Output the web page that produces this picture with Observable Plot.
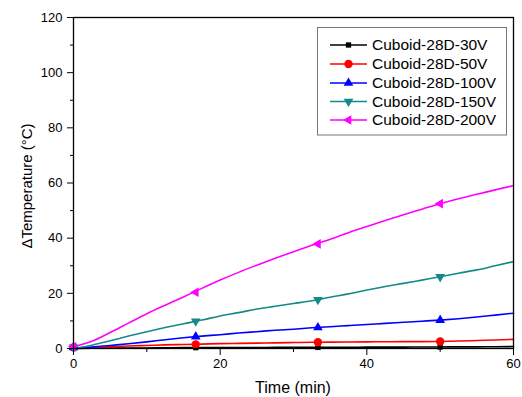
<!DOCTYPE html>
<html>
<head>
<meta charset="utf-8">
<script src="https://cdn.jsdelivr.net/npm/d3@7"></script>
<script src="https://cdn.jsdelivr.net/npm/@observablehq/plot@0.6"></script>
<style>
  html, body { margin: 0; padding: 0; background: #fff; }
  #chart svg { display: block; }
</style>
</head>
<body>
<div id="chart"></div>
<script>
// ---- Data ----
const seriesNames = ["Cuboid-28D-30V", "Cuboid-28D-50V", "Cuboid-28D-100V", "Cuboid-28D-150V", "Cuboid-28D-200V"];
const seriesColors = ["#000000", "#ff0000", "#0000ff", "#138a8a", "#ff00ff"];

const lineTimes = [0, 2.5, 5, 7.5, 10, 12.5, 15, 17.5, 20, 22.5, 25, 27.5, 30, 32.5, 35, 37.5, 40, 42.5, 45, 47.5, 50, 52.5, 55, 57.5, 60];
const v30  = [0, 0.1, 0.15, 0.2, 0.2, 0.25, 0.3, 0.3, 0.3, 0.35, 0.35, 0.4, 0.4, 0.4, 0.45, 0.45, 0.5, 0.5, 0.5, 0.55, 0.55, 0.6, 0.6, 0.65, 0.7];
const v50  = [0, 0.3, 0.6, 0.9, 1.1, 1.3, 1.45, 1.6, 1.75, 1.85, 1.95, 2.05, 2.15, 2.25, 2.3, 2.35, 2.4, 2.45, 2.5, 2.5, 2.55, 2.7, 2.9, 3.1, 3.3];
const v100 = [0, 0.5, 1.1, 1.7, 2.4, 3.2, 3.9, 4.5, 5.0, 5.6, 6.1, 6.6, 7.0, 7.5, 7.9, 8.3, 8.7, 9.1, 9.5, 9.9, 10.3, 10.8, 11.4, 12.1, 12.8];
const v150 = [0, 1.2, 2.8, 4.5, 6.1, 7.6, 9.0, 10.3, 11.8, 13.0, 14.3, 15.3, 16.3, 17.3, 18.6, 19.8, 21.2, 22.5, 23.6, 24.8, 26.0, 27.3, 28.5, 30.0, 31.5];
const v200 = [0.6, 2.6, 5.8, 9.2, 12.6, 15.7, 18.7, 21.8, 24.8, 27.6, 30.2, 32.7, 35.1, 37.4, 39.6, 42.0, 44.2, 46.4, 48.5, 50.5, 52.5, 54.3, 55.9, 57.5, 59.1];

const markerTimes = [0, 16.67, 33.33, 50];
const m30  = [0.4, 0.3, 0.4, 0.55];
const m50  = [0.4, 1.5, 2.3, 2.55];
const m100 = [0.4, 4.3, 7.6, 10.3];
const m150 = [0.4, 9.9, 17.7, 26.0];
const m200 = [0.6, 20.4, 37.9, 52.5];

const yTicks = [0, 20, 40, 60, 80, 100, 120];
const yMinorTicks = [10, 30, 50, 70, 90, 110];
const xTicks = [0, 20, 40, 60];
const xMinorTicks = [10, 30, 50];
const xLabel = "Time (min)";
const yLabel = "\u0394Temperature (\u00B0C)";

// ---- Custom symbols ----
const triDown = {draw(ctx, size) {
  const y = -Math.sqrt(size / (Math.sqrt(3) * 3));
  ctx.moveTo(0, -y * 2); ctx.lineTo(-Math.sqrt(3) * y, y); ctx.lineTo(Math.sqrt(3) * y, y); ctx.closePath();
}};
const triLeft = {draw(ctx, size) {
  const y = -Math.sqrt(size / (Math.sqrt(3) * 3));
  ctx.moveTo(y * 2, 0); ctx.lineTo(-y, -Math.sqrt(3) * y); ctx.lineTo(-y, Math.sqrt(3) * y); ctx.closePath();
}};
const symbols = ["square", "circle", "triangle", triDown, triLeft];
const symbolR = [3, 4.2, 3.6, 3.6, 3.6];

const lineVals = [v30, v50, v100, v150, v200];
const markVals = [m30, m50, m100, m150, m200];

const lineData = lineVals.map(vals => lineTimes.map((t, i) => ({t, v: vals[i]})));
const markData = markVals.map(vals => markerTimes.map((t, i) => ({t, v: vals[i]})));

const font = "'Liberation Sans', Arial, sans-serif";

const marks = [];
lineData.forEach((d, k) => {
  marks.push(Plot.line(d, {x: "t", y: "v", stroke: seriesColors[k], strokeWidth: 1.6, curve: "monotone-x"}));
});
markData.forEach((d, k) => {
  marks.push(Plot.dot(d, {x: "t", y: "v", fill: seriesColors[k], stroke: "none", symbol: symbols[k], r: symbolR[k]}));
});
marks.push(
  Plot.axisY({ticks: yTicks, tickSize: 6, tickPadding: 5, label: null, fontSize: 13}),
  Plot.axisY({ticks: yMinorTicks, tickSize: 3, text: null, label: null}),
  Plot.axisX({ticks: xTicks, tickSize: 7, tickPadding: 3, label: null, fontSize: 13}),
  Plot.axisX({ticks: xMinorTicks, tickSize: 4, text: null, label: null}),
  Plot.frame({stroke: "#000", strokeWidth: 1.3})
);

const chart = Plot.plot({
  width: 522,
  height: 397,
  marginLeft: 73,
  marginRight: 9,
  marginTop: 17,
  marginBottom: 49,
  style: {fontFamily: font, fontSize: "13px", color: "#000", background: "#fff"},
  x: {domain: [0, 60]},
  y: {domain: [0, 120]},
  marks
});

document.getElementById("chart").appendChild(chart);

// ---- Axis titles and legend (non-data decorations) ----
const svg = d3.select(chart);
svg.append("text")
  .attr("x", 293).attr("y", 393)
  .attr("text-anchor", "middle").attr("font-weight", "normal")
  .attr("font-family", font).attr("font-size", 16).attr("fill", "#000")
  .text(xLabel);
svg.append("text")
  .attr("transform", "translate(32,186) rotate(-90)")
  .attr("text-anchor", "middle").attr("font-weight", "normal")
  .attr("font-family", font).attr("font-size", 15).attr("fill", "#000")
  .text(yLabel);

const lg = svg.append("g");
lg.append("rect").attr("x", 317.5).attr("y", 27.5).attr("width", 189).attr("height", 107.5)
  .attr("fill", "#fff").attr("stroke", "#777").attr("stroke-width", 1);
const rowY = [45, 64, 83, 101.5, 120];
seriesNames.forEach((name, k) => {
  const y = rowY[k];
  lg.append("line").attr("x1", 330).attr("x2", 367).attr("y1", y).attr("y2", y)
    .attr("stroke", seriesColors[k]).attr("stroke-width", 1.6);
  const sym = typeof symbols[k] === "string"
    ? {square: d3.symbolSquare, circle: d3.symbolCircle, triangle: d3.symbolTriangle}[symbols[k]]
    : symbols[k];
  lg.append("path").attr("transform", `translate(348.5,${y})`)
    .attr("d", d3.symbol(sym, Math.PI * symbolR[k] * symbolR[k])())
    .attr("fill", seriesColors[k]);
  lg.append("text").attr("x", 372).attr("y", y).attr("dy", "0.35em")
    .attr("text-anchor", "start").attr("font-weight", "normal")
    .attr("font-family", font).attr("font-size", 15.5).attr("fill", "#000")
    .text(name);
});
</script>
</body>
</html>
